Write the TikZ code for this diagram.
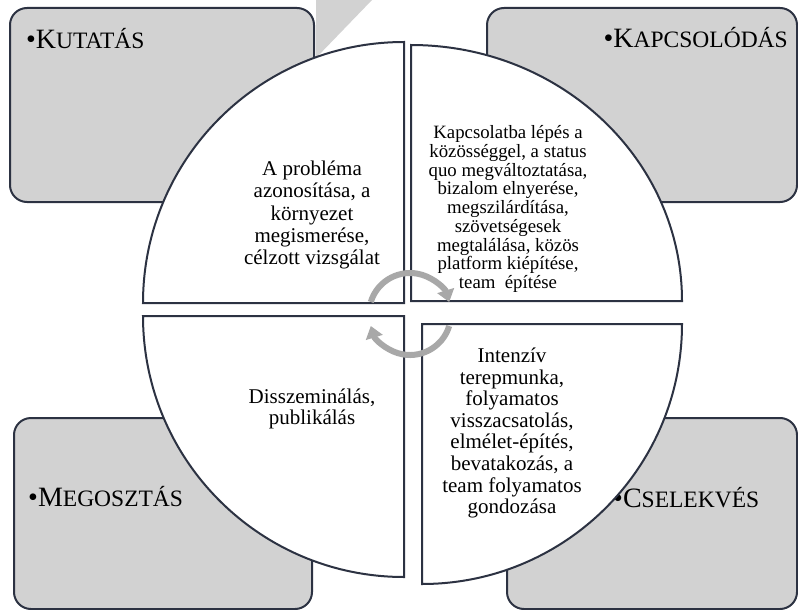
\documentclass[tikz,border=0pt]{standalone}
\usepackage{fontspec}
\setmainfont{Liberation Serif}
\usetikzlibrary{arrows.meta}
\definecolor{edgecol}{RGB}{44,50,66}
\definecolor{boxfill}{RGB}{210,210,210}
\definecolor{arrowgrey}{RGB}{168,168,168}
\newcommand{\caplabel}[2]{{\fontsize{28}{28}\selectfont •#1}{\fontsize{23.5}{23.5}\selectfont #2}}
\begin{document}
\begin{tikzpicture}[x=1pt,y=-1pt,
  cornerbox/.style={draw=edgecol, fill=boxfill, line width=2pt, rounded corners=17pt},
  piepart/.style={draw=edgecol, fill=white, line width=2pt},
  qtext/.style={align=center, inner sep=0pt, text=black},
  boxlabel/.style={inner sep=0pt, text=black},
  cyclearrow/.style={draw=arrowgrey, line width=6pt, -{Triangle[width=17pt,length=12pt]}}]
\useasboundingbox (0,0) rectangle (798,610);
% grey wedge at top
\fill[boxfill] (316,0) -- (372,0) -- (316,58) -- cycle;
% corner boxes
\draw[cornerbox] (10,8) rectangle (314,202);
\draw[cornerbox] (487,8) rectangle (797,202);
\draw[cornerbox] (14,418) rectangle (312,609);
\draw[cornerbox] (507,418) rectangle (797,609);
% box labels
\node[boxlabel, anchor=base west] (lkut) at (26,49) {\caplabel{K}{UTATÁS}};
\node[boxlabel, anchor=base east] (lkap) at (788,48) {\caplabel{K}{APCSOLÓDÁS}};
\node[boxlabel, anchor=base west] (lmeg) at (28,506) {\caplabel{M}{EGOSZTÁS}};
\node[boxlabel, anchor=base west] (lcse) at (613,507) {\caplabel{C}{SELEKVÉS}};
% quadrants
\draw[piepart] (404,303) -- (143,303) arc[start angle=180,end angle=270,radius=261] -- cycle;
\draw[piepart] (411,301) -- (411,45) arc[start angle=270,end angle=360,x radius=271,y radius=256] -- cycle;
\draw[piepart] (422,324) -- (682,324) arc[start angle=0,end angle=90,radius=260] -- cycle;
\draw[piepart] (404,316) -- (404,577) arc[start angle=90,end angle=180,radius=261] -- cycle;
% quadrant texts
\node[qtext, font=\fontsize{21}{22.2}\selectfont] (qtl) at (312,215)
  {A probléma\\azonosítása, a\\környezet\\megismerése,\\célzott vizsgálat};
\node[qtext, font=\fontsize{18.8}{18.75}\selectfont] (qtr) at (508,209)
  {Kapcsolatba lépés a\\közösséggel, a status\\quo megváltoztatása,\\bizalom elnyerése,\\megszilárdítása,\\szövetségesek\\megtalálása, közös\\platform kiépítése,\\team~ építése};
\node[qtext, font=\fontsize{21}{20.5}\selectfont] (qbl) at (312,409)
  {Disszeminálás,\\publikálás};
\node[qtext, font=\fontsize{21}{21.6}\selectfont] (qbr) at (512,433)
  {Intenzív\\terepmunka,\\folyamatos\\visszacsatolás,\\elmélet-építés,\\bevatakozás, a\\team folyamatos\\gondozása};
% central cycle arrows
\coordinate (hub) at (410,314);
\draw[cyclearrow] ([shift={(197:41)}]hub) arc[start angle=197,end angle=343,radius=41];
\draw[cyclearrow] ([shift={(17:41)}]hub) arc[start angle=17,end angle=163,radius=41];
\end{tikzpicture}
\end{document}
